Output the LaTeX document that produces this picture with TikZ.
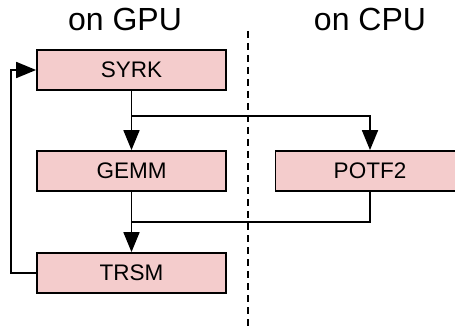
\documentclass[tikz,border=0pt]{standalone}
\usepackage{fontspec}
\setmainfont{Liberation Sans}
\usetikzlibrary{arrows.meta}
\definecolor{boxfill}{HTML}{F4CCCC}
\begin{document}
\begin{tikzpicture}[x=1pt,y=-1pt,
  kernel/.style={draw, fill=boxfill, line width=1.8pt, minimum width=189pt,
    minimum height=40pt, inner sep=0pt, font=\fontsize{22.5}{22.5}\selectfont},
  title/.style={anchor=base, inner sep=0pt, font=\fontsize{32}{32}\selectfont},
  wire/.style={line width=1.8pt},
  flow/.style={wire, -{Triangle[length=20pt,width=16pt]}}]
\useasboundingbox (0,0) rectangle (455,326);

% column headings and the device divider
\node[title] (gpu) at (125,30.5) {on GPU};
\node[title] (cpu) at (370,30.5) {on CPU};
\coordinate (divtop) at (248,31);
\coordinate (divbot) at (248,326);
\draw[line width=1.5pt, dash pattern=on 7pt off 5pt] (divtop) -- (divbot);

% kernels
\node[kernel] (syrk) at (131.5,70) {SYRK};
\node[kernel] (gemm) at (131.5,171) {GEMM};
\node[kernel] (potf) at (370,171) {POTF2};
\node[kernel] (trsm) at (131.5,273) {TRSM};

% data flow
\coordinate (fork) at (131.5,116);
\coordinate (join) at (131.5,222);
\draw[flow] (syrk.south) -- (gemm.north);
\draw[flow] (fork) -| (potf.north);
\draw[flow] (gemm.south) -- (trsm.north);
\draw[wire] (potf.south) |- (join);
\draw[flow] (trsm.west) -- ++(-25,0) |- (syrk.west);
\end{tikzpicture}
\end{document}
